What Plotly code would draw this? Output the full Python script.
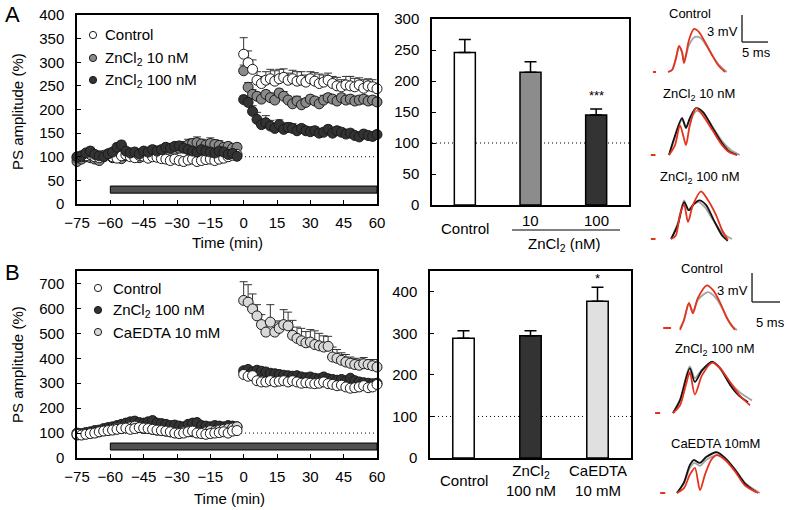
import plotly.graph_objects as go

W, H = 787, 510
def px(x): return x / W
def py(y): return 1 - y / H

FONT = "Liberation Sans, Arial, sans-serif"
FS = 15

# ---------------- time-course data ----------------
t_baseline = [-75, -73, -71, -69, -67, -65, -63, -61, -59, -57, -55, -53, -51, -49, -47, -45, -43,
              -41, -39, -37, -35, -33, -31, -29, -27, -25, -23, -21, -19, -17, -15, -13, -11, -9,
              -7, -5, -3]
t_post = [0, 2, 4, 6, 8, 10, 12, 14, 16, 18, 20, 22, 24, 26, 28, 30, 32, 34, 36, 38, 40, 42, 44,
          46, 48, 50, 52, 54, 56, 58, 60]

# Panel A
A_names = ["Control", "ZnCl<sub>2</sub> 10 nM", "ZnCl<sub>2</sub> 100 nM"]
A_ctrl_base = [98, 100, 102, 105, 100, 98, 103, 106, 100, 97, 102, 104, 100, 98, 103, 101, 97, 100,
               99, 96, 95, 92, 95, 92, 90, 93, 95, 90, 92, 94, 95, 92, 95, 97, 100, 103, 105]
A_gray_base = [90, 95, 100, 98, 95, 92, 100, 105, 98, 100, 96, 102, 108, 100, 98, 102, 100, 103,
               106, 108, 110, 112, 115, 118, 122, 125, 128, 130, 127, 125, 128, 126, 124, 120, 122, 118, 120]
A_dark_base = [100, 102, 108, 112, 105, 102, 100, 106, 110, 120, 125, 112, 108, 110, 106, 112, 110,
               115, 112, 115, 120, 118, 122, 123, 118, 115, 112, 110, 115, 112, 110, 108, 112, 110, 105, 107, 101]
A_ctrl_base_err = [6, 5, 6, 8, 6, 5, 6, 8, 6, 5, 6, 6, 5, 6, 8, 6, 5, 6, 6, 5, 6, 8, 6, 8, 6, 8, 8,
                   6, 8, 6, 8, 6, 6, 5, 6, 6, 5]
A_gray_base_err = [5, 6, 5, 6, 5, 6, 6, 5, 6, 5, 6, 6, 8, 6, 5, 6, 8, 6, 8, 8, 8, 10, 8, 10, 10, 12,
                   10, 12, 10, 10, 12, 10, 10, 8, 8, 8, 8]
A_dark_base_err = [6, 5, 6, 8, 6, 5, 6, 6, 8, 8, 8, 6, 6, 6, 5, 6, 6, 8, 6, 8, 8, 6, 8, 8, 6, 6, 5,
                   6, 6, 5, 6, 5, 6, 5, 5, 6, 5]
A_ctrl_post = [317, 299, 285, 262, 255, 262, 265, 260, 265, 268, 262, 265, 260, 262, 258, 265, 260,
               255, 258, 262, 255, 250, 248, 252, 250, 248, 252, 245, 250, 248, 244]
A_ctrl_post_err = [35, 25, 20, 18, 15, 18, 20, 22, 20, 18, 15, 18, 20, 18, 15, 15, 18, 20, 15, 15,
                   15, 18, 15, 18, 20, 18, 15, 18, 15, 15, 12]
A_gray_post = [282, 247, 232, 228, 222, 232, 225, 220, 235, 228, 220, 212, 218, 210, 215, 222, 218,
               212, 220, 225, 222, 218, 225, 220, 222, 218, 220, 222, 218, 220, 216]
A_gray_post_err = [12, 10, 10, 8, 8, 8, 10, 8, 8, 10, 8, 8, 10, 8, 8, 8, 8, 8, 10, 8, 8, 8, 8, 8, 8,
                   8, 8, 8, 8, 8, 8]
A_dark_post = [221, 215, 196, 179, 168, 172, 165, 160, 168, 158, 162, 160, 155, 160, 155, 153, 155,
               150, 152, 158, 150, 155, 152, 148, 150, 145, 142, 148, 145, 143, 147]
A_dark_post_err = [8, 8, 12, 15, 12, 15, 12, 10, 10, 12, 10, 10, 8, 8, 8, 8, 8, 8, 8, 8, 8, 8, 8, 8,
                   8, 8, 8, 8, 8, 8, 8]

# Panel B
B_names = ["Control", "ZnCl<sub>2</sub> 100 nM", "CaEDTA 10 mM"]
B_ctrl_base = [95, 92, 95, 98, 100, 105, 108, 110, 112, 115, 118, 120, 115, 118, 122, 120, 118, 115,
               112, 110, 108, 105, 100, 98, 100, 105, 108, 100, 98, 95, 98, 100, 102, 105, 100, 108, 110]
B_dark_base = [100, 98, 102, 105, 110, 112, 118, 122, 125, 130, 135, 140, 145, 148, 142, 140, 145,
               150, 140, 138, 135, 130, 132, 128, 125, 135, 140, 142, 130, 128, 125, 130, 128, 125, 130, 128, 125]
B_light_base = [92, 95, 98, 100, 102, 105, 110, 112, 115, 120, 118, 122, 125, 128, 122, 118, 120, 115,
                112, 110, 108, 105, 102, 100, 105, 108, 105, 102, 100, 105, 110, 108, 112, 115, 118, 120, 125]
B_base_err = [8, 8, 10, 8, 8, 10, 8, 10, 10, 8, 10, 12, 10, 10, 12, 10, 10, 12, 10, 10, 8, 10, 8, 8,
              10, 8, 10, 8, 8, 10, 8, 8, 10, 8, 8, 10, 8]
B_ctrl_post = [335, 328, 330, 310, 305, 305, 310, 305, 308, 310, 305, 310, 305, 300, 302, 300, 298,
               300, 305, 298, 295, 290, 292, 285, 280, 282, 285, 290, 282, 285, 295]
B_dark_post = [350, 355, 345, 352, 348, 345, 340, 338, 335, 332, 330, 328, 330, 325, 322, 325, 320,
               318, 325, 318, 315, 312, 315, 310, 320, 310, 305, 302, 300, 298, 300]
B_light_post = [632, 625, 598, 570, 535, 505, 545, 505, 520, 535, 530, 492, 480, 470, 462, 465, 455,
                450, 445, 448, 405, 400, 392, 385, 380, 375, 372, 378, 375, 370, 365]
B_post_err = [12, 12, 10, 12, 10, 12, 10, 10, 12, 10, 10, 12, 10, 10, 12, 10, 10, 12, 10, 10, 12, 10,
              10, 12, 10, 10, 12, 10, 10, 12, 10]
B_light_post_err = [75, 70, 60, 45, 40, 30, 70, 40, 30, 60, 55, 60, 45, 50, 45, 50, 55, 50, 45, 40,
                    40, 35, 30, 30, 25, 25, 25, 25, 20, 25, 30]

# ---------------- bar data ----------------
A_bar_cats = ["Control", "10", "100"]
A_bar_vals = [246, 214, 145]
A_bar_err = [21, 17, 10]
A_bar_sig = ["", "", "***"]
B_bar_cats = ["Control", "ZnCl<sub>2</sub><br>100 nM", "CaEDTA<br>10 mM"]
B_bar_vals = [288, 294, 377]
B_bar_err = [18, 12, 34]
B_bar_sig = ["", "", "*"]

# ---------------- example traces (ms, mV) ----------------
# Panel A, Control
A1_gray_t = [0, 0.77, 1.54, 2.12, 2.69, 3.08, 3.46, 4.04, 5.2, 6.2, 7.3, 8.6, 9.8, 11.3]
A1_gray_v = [0, 0.22, 1.5, 2.8, 2.2, 1.15, 1.8, 3.0, 3.9, 3.8, 3.0, 1.8, 0.8, 0]
A1_red_t = [0, 0.77, 1.54, 2.12, 2.69, 3.08, 3.46, 4.04, 5.0, 5.96, 7.12, 8.46, 9.62, 10.96]
A1_red_v = [0, 0.22, 1.56, 2.89, 2.22, 1.0, 1.89, 3.56, 4.78, 4.44, 3.33, 1.89, 0.78, 0]
# Panel A, ZnCl2 10 nM
A2_gray_t = [0.2, 1.15, 2.7, 3.46, 4.2, 5.5, 6.8, 8.6, 10.6, 12.2, 13.8]
A2_gray_v = [0, 1.6, 3.9, 3.1, 3.9, 4.9, 4.6, 3.1, 1.4, 0.5, 0]
A2_black_t = [0.2, 1.15, 2.7, 3.46, 4.2, 5.4, 6.7, 8.5, 10.4, 11.8, 13.3]
A2_black_v = [0, 1.8, 4.1, 3.0, 4.1, 5.2, 4.8, 3.1, 1.3, 0.4, 0]
A2_red_t = [0.2, 1.35, 2.3, 3.0, 3.46, 4.2, 5.4, 6.7, 8.5, 10.4, 11.8, 13.3]
A2_red_v = [0, 1.1, 3.3, 2.0, 1.1, 3.3, 5.2, 4.4, 2.8, 1.1, 0.3, 0]
# Panel A, ZnCl2 100 nM
A3_gray_t = [0.6, 1.9, 3.1, 3.85, 4.8, 5.8, 7.0, 8.8, 10.6, 12.3]
A3_gray_v = [0, 1.8, 4.3, 3.2, 3.8, 4.1, 3.6, 2.0, 0.6, 0]
A3_black_t = [0.6, 1.9, 3.1, 4.0, 5.0, 6.0, 7.3, 8.8, 10.4, 11.5]
A3_black_v = [0, 1.6, 4.1, 3.2, 3.9, 4.3, 3.8, 2.1, 0.4, -0.2]
A3_red_t = [0.6, 1.5, 2.3, 3.1, 3.85, 4.8, 6.35, 7.7, 9.2, 10.4, 11.5]
A3_red_v = [0, 0.4, 2.7, 3.8, 1.9, 3.8, 5.3, 4.3, 2.7, 1.0, -0.1]
# Panel B, Control
B1_gray_t = [0, 0.7, 1.6, 2.3, 3.2, 5.0, 6.4, 7.9, 9.1, 10.2]
B1_gray_v = [0, 0.8, 2.5, 1.75, 2.9, 3.7, 3.1, 1.65, 0.3, -0.2]
B1_red_t = [0, 0.7, 1.6, 2.3, 3.2, 4.8, 5.9, 7.1, 8.4, 9.8]
B1_red_v = [-0.2, 0.8, 2.6, 1.5, 3.1, 4.4, 3.9, 2.7, 1.0, -0.2]
# Panel B, ZnCl2 100 nM
B2_gray_t = [0, 1.25, 3.0, 3.9, 5.2, 7.0, 8.4, 10.2, 12.0, 14.1]
B2_gray_v = [0, 1.4, 4.8, 3.6, 4.5, 5.2, 4.7, 3.1, 2.1, 1.3]
B2_black_t = [0, 1.25, 3.0, 3.9, 5.2, 7.0, 8.4, 10.2, 11.6, 13.4]
B2_black_v = [0, 1.3, 4.6, 3.2, 4.4, 5.3, 4.6, 2.9, 1.9, 1.1]
B2_red_t = [0, 1.25, 2.3, 3.0, 3.9, 5.2, 7.0, 8.4, 10.2, 12.0, 13.75]
B2_red_v = [0, 0.8, 2.9, 4.2, 1.9, 3.9, 5.2, 4.6, 3.2, 1.75, 0.8]
# Panel B, CaEDTA 10 mM
B3_gray_t = [0, 1.25, 2.3, 3.1, 4.1, 5.2, 7.3, 8.8, 10.6, 12.4, 14.8]
B3_gray_v = [0, 1.0, 2.6, 3.1, 2.8, 3.4, 3.9, 3.4, 2.2, 0.9, 0]
B3_black_t = [0, 1.25, 2.3, 3.0, 4.1, 5.2, 7.1, 8.6, 10.4, 12.1, 14.1]
B3_black_v = [0, 1.1, 2.9, 3.4, 3.1, 3.7, 4.2, 3.6, 2.4, 1.0, 0.1]
B3_red_t = [0, 1.25, 2.3, 3.2, 4.1, 5.0, 6.1, 7.1, 8.6, 10.4, 12.1, 14.5]
B3_red_v = [0, 0.5, 1.9, 2.6, 0.3, 1.9, 3.4, 3.9, 3.4, 2.2, 0.8, 0]

RED = "#e5321d"
GRAY = "#a3a3a3"
BLACK = "#111111"

fig = go.Figure()

# ---------------- axes ----------------
axis_common = dict(showline=True, mirror=True, linecolor="black", linewidth=1.5, ticks="inside",
                   ticklen=4, tickcolor="black", tickwidth=1, showgrid=False, zeroline=False,
                   automargin=False, tickfont=dict(family=FONT, size=FS, color="black"))

layout = dict(
    width=W, height=H, margin=dict(l=0, r=0, t=0, b=0, autoexpand=False), paper_bgcolor="white",
    plot_bgcolor="white", showlegend=False, font=dict(family=FONT, size=FS, color="black"),
)
# A time course
layout["xaxis"] = dict(axis_common, domain=[px(77), px(377)], range=[-75, 60],
                       tickvals=[-75, -60, -45, -30, -15, 0, 15, 30, 45, 60], anchor="y",
                       ticklabelstandoff=4)
layout["yaxis"] = dict(axis_common, domain=[py(204), py(15)], range=[0, 400], dtick=50, anchor="x",
                       ticklabelstandoff=8)
# A bars
layout["xaxis2"] = dict(axis_common, domain=[px(432), px(629)], type="category",
                        range=[-0.5, 2.5], showticklabels=False, ticks="", anchor="y2")
layout["yaxis2"] = dict(axis_common, domain=[py(205), py(19)], range=[0, 300], dtick=50,
                        anchor="x2", ticklabelstandoff=8)
# B time course
layout["xaxis3"] = dict(axis_common, domain=[px(77), px(377)], range=[-75, 60],
                        tickvals=[-75, -60, -45, -30, -15, 0, 15, 30, 45, 60], anchor="y3",
                        ticklabelstandoff=4)
layout["yaxis3"] = dict(axis_common, domain=[py(458), py(271)], range=[0, 750],
                        tickvals=[0, 100, 200, 300, 400, 500, 600, 700], anchor="x3",
                        ticklabelstandoff=8)
# B bars
layout["xaxis4"] = dict(axis_common, domain=[px(430), px(631)], type="category",
                        range=[-0.5, 2.5], showticklabels=False, ticks="", anchor="y4")
layout["yaxis4"] = dict(axis_common, domain=[py(458), py(271)], range=[0, 450],
                        tickvals=[0, 100, 200, 300, 400], anchor="x4", ticklabelstandoff=8)

# trace sub-axes: (n, x0, x1, ytop, ybot, t0px, basepx, px/ms, px/mV)
trace_axes = [
    (5, 640, 787, 5, 82, 668, 72, 5.2, 9.0),
    (6, 640, 787, 100, 165, 668, 155, 5.2, 9.0),
    (7, 640, 787, 182, 250, 668, 239, 5.2, 9.0),
    (8, 640, 787, 262, 338, 680, 328, 5.6, 9.7),
    (9, 640, 787, 355, 422, 673, 413, 5.6, 9.7),
    (10, 640, 787, 450, 505, 677, 493, 5.6, 9.7),
]
for n, x0, x1, yt, yb, t0, base, pms, pmv in trace_axes:
    layout[f"xaxis{n}"] = dict(domain=[px(x0), px(x1)], range=[(x0 - t0) / pms, (x1 - t0) / pms],
                               visible=False, automargin=False, anchor=f"y{n}")
    layout[f"yaxis{n}"] = dict(domain=[py(yb), py(yt)], range=[(base - yb) / pmv, (base - yt) / pmv],
                               visible=False, automargin=False, anchor=f"x{n}")

fig.update_layout(**layout)


def add_series(t, y, err, color, xa, ya):
    fig.add_trace(go.Scatter(
        x=t, y=y, mode="markers", cliponaxis=False, xaxis=xa, yaxis=ya, showlegend=False,
        marker=dict(size=10, color=color, line=dict(color="#1a1a1a", width=1)),
        error_y=dict(type="data", symmetric=False, array=err, arrayminus=[0] * len(err),
                     color="#333333", thickness=1, width=4)))


A_colors = ["#ffffff", "#8a8a8a", "#333333"]
B_colors = ["#ffffff", "#333333", "#d9d9d9"]

# Panel A: gray, control, dark
add_series(t_baseline + t_post, A_gray_base + A_gray_post, A_gray_base_err + A_gray_post_err,
           A_colors[1], "x", "y")
add_series(t_baseline + t_post, A_ctrl_base + A_ctrl_post, A_ctrl_base_err + A_ctrl_post_err,
           A_colors[0], "x", "y")
add_series(t_baseline + t_post, A_dark_base + A_dark_post, A_dark_base_err + A_dark_post_err,
           A_colors[2], "x", "y")
# Panel B: dark, light, control
add_series(t_baseline + t_post, B_dark_base + B_dark_post, B_base_err + B_post_err,
           B_colors[1], "x3", "y3")
add_series(t_baseline + t_post, B_light_base + B_light_post, B_base_err + B_light_post_err,
           B_colors[2], "x3", "y3")
add_series(t_baseline + t_post, B_ctrl_base + B_ctrl_post, B_base_err + B_post_err,
           B_colors[0], "x3", "y3")

# Bars
for cats, vals, errs, cols, xa, ya in [
        (A_bar_cats, A_bar_vals, A_bar_err, ["#ffffff", "#8c8c8c", "#333333"], "x2", "y2"),
        (B_bar_cats, B_bar_vals, B_bar_err, ["#ffffff", "#333333", "#e0e0e0"], "x4", "y4")]:
    fig.add_trace(go.Bar(
        x=cats, y=vals, width=0.32, xaxis=xa, yaxis=ya, showlegend=False,
        marker=dict(color=cols, line=dict(color="black", width=1.5)),
        error_y=dict(type="data", symmetric=False, array=errs, arrayminus=[0, 0, 0],
                     color="black", thickness=1.5, width=6)))

# Example traces
trace_sets = [
    (5, [(A1_gray_t, A1_gray_v, GRAY), (A1_red_t, A1_red_v, RED)]),
    (6, [(A2_gray_t, A2_gray_v, GRAY), (A2_black_t, A2_black_v, BLACK), (A2_red_t, A2_red_v, RED)]),
    (7, [(A3_gray_t, A3_gray_v, GRAY), (A3_black_t, A3_black_v, BLACK), (A3_red_t, A3_red_v, RED)]),
    (8, [(B1_gray_t, B1_gray_v, GRAY), (B1_red_t, B1_red_v, RED)]),
    (9, [(B2_gray_t, B2_gray_v, GRAY), (B2_black_t, B2_black_v, BLACK), (B2_red_t, B2_red_v, RED)]),
    (10, [(B3_gray_t, B3_gray_v, GRAY), (B3_black_t, B3_black_v, BLACK), (B3_red_t, B3_red_v, RED)]),
]
# stimulus-artifact dash start/end (ms) for each trace panel
artifact_t = {5: [-2.9, -2.3], 6: [-3.3, -2.4], 7: [-3.3, -2.4], 8: [-3.0, -1.6], 9: [-3.2, -2.3],
              10: [-3.0, -2.1]}
for n, lines in trace_sets:
    for t, v, c in lines:
        fig.add_trace(go.Scatter(x=t, y=v, mode="lines", xaxis=f"x{n}", yaxis=f"y{n}",
                                 line=dict(color=c, width=1.8, shape="spline", smoothing=0.8),
                                 showlegend=False, hoverinfo="skip"))
    fig.add_trace(go.Scatter(x=artifact_t[n], y=[0, 0], mode="lines", xaxis=f"x{n}",
                             yaxis=f"y{n}", line=dict(color=RED, width=2), showlegend=False))

shapes = []
annotations = []
DOT = dict(color="black", width=1, dash="1px,3px")

# dotted 100% lines
shapes.append(dict(type="line", xref="x", yref="y", x0=-75, x1=60, y0=100, y1=100, layer="below",
                   line=DOT))
shapes.append(dict(type="line", xref="x3", yref="y3", x0=-75, x1=60, y0=100, y1=100, layer="below",
                   line=DOT))
shapes.append(dict(type="line", xref="x2 domain", yref="y2", x0=0, x1=1, y0=100, y1=100,
                   layer="below", line=DOT))
shapes.append(dict(type="line", xref="x4 domain", yref="y4", x0=0, x1=1, y0=100, y1=100,
                   layer="below", line=DOT))
# drug application bars
shapes.append(dict(type="rect", xref="x", yref="y", x0=-60, x1=60, y0=23, y1=38,
                   fillcolor="#505050", line=dict(color="black", width=1)))
shapes.append(dict(type="rect", xref="x3", yref="y3", x0=-60, x1=60, y0=32, y1=60,
                   fillcolor="#505050", line=dict(color="black", width=1)))

# legends (symbol + text)
def legend(entries, colors, cx, cys, tx):
    for name, col, cy in zip(entries, colors, cys):
        shapes.append(dict(type="circle", xref="paper", yref="paper",
                           x0=px(cx - 3.6), x1=px(cx + 3.6), y0=py(cy + 3.6), y1=py(cy - 3.6),
                           fillcolor=col, line=dict(color="#1a1a1a", width=1)))
        annotations.append(dict(text=name, xref="paper", yref="paper", x=px(tx), y=py(cy),
                                xanchor="left", yanchor="middle", showarrow=False,
                                font=dict(size=FS, family=FONT, color="black")))

legend(A_names, A_colors, 93, [35, 58, 80], 103)
legend(B_names, B_colors, 98, [288, 310, 332], 111)

def ann(text, x, y, size=FS, xanchor="center", yanchor="middle", angle=0, **kw):
    annotations.append(dict(text=text, xref="paper", yref="paper", x=px(x), y=py(y),
                            xanchor=xanchor, yanchor=yanchor, showarrow=False, textangle=angle,
                            font=dict(size=size, family=FONT, color="black"), **kw))

# panel letters
ann("A", 12, 14, size=22)
ann("B", 12, 272, size=22)
# axis titles
ann("PS amplitude (%)", 17, 112, angle=-90)
ann("PS amplitude (%)", 17, 365, angle=-90)
ann("Time (min)", 227, 242)
ann("Time (min)", 229, 498)

# bar category labels A (Control lower; 10 / 100 above the ZnCl2 bracket)
for i, c in enumerate(A_bar_cats):
    annotations.append(dict(text=c, xref="x2", yref="paper", x=i, y=py(229 if i == 0 else 220),
                            showarrow=False, yanchor="middle",
                            font=dict(size=FS, family=FONT, color="black")))
shapes.append(dict(type="line", xref="paper", yref="paper", x0=px(512), x1=px(620), y0=py(230),
                   y1=py(230), line=dict(color="black", width=1.2)))
ann("ZnCl<sub>2</sub> (nM)", 564, 244)
# bar category labels B
for i, c in enumerate(B_bar_cats):
    annotations.append(dict(text=c, xref="x4", yref="paper", x=i, y=py(480), showarrow=False,
                            yanchor="middle", font=dict(size=FS, family=FONT, color="black")))
# significance marks
for vals, errs, sig, xr, yr, shift in [(A_bar_vals, A_bar_err, A_bar_sig, "x2", "y2", 4),
                                      (B_bar_vals, B_bar_err, B_bar_sig, "x4", "y4", -1)]:
    for i, (v, e, s) in enumerate(zip(vals, errs, sig)):
        if s:
            annotations.append(dict(text=s, xref=xr, yref=yr, x=i, y=v + e, yshift=shift,
                                    yanchor="bottom", showarrow=False,
                                    font=dict(size=13, family=FONT, color="black")))

# trace labels
ann("Control", 690, 13, size=13)
ann("ZnCl<sub>2</sub> 10 nM", 699, 94, size=13)
ann("ZnCl<sub>2</sub> 100 nM", 700, 177, size=13)
ann("Control", 702, 268, size=13)
ann("ZnCl<sub>2</sub> 100 nM", 715, 349, size=13)
ann("CaEDTA 10mM", 715, 443, size=13)

# scale bars (3 mV / 5 ms) in trace axes coordinates
for n, t0, v0 in [(5, 14.23, 3.33), (8, 12.86, 2.68)]:
    shapes.append(dict(type="line", xref=f"x{n}", yref=f"y{n}", x0=t0, x1=t0, y0=v0, y1=v0 + 3,
                       line=dict(color="#333", width=1.5)))
    shapes.append(dict(type="line", xref=f"x{n}", yref=f"y{n}", x0=t0, x1=t0 + 5, y0=v0, y1=v0,
                       line=dict(color="#333", width=1.5)))
ann("3 mV", 740, 31, size=13, xanchor="right")
ann("5 ms", 756, 53, size=13)
ann("3 mV", 750, 290, size=13, xanchor="right")
ann("5 ms", 770, 322, size=13)

fig.update_layout(shapes=shapes, annotations=annotations)
fig.write_html("out.html", config={"displayModeBar": False},
               post_script="document.body.style.margin='0';document.body.style.overflow='hidden';")
